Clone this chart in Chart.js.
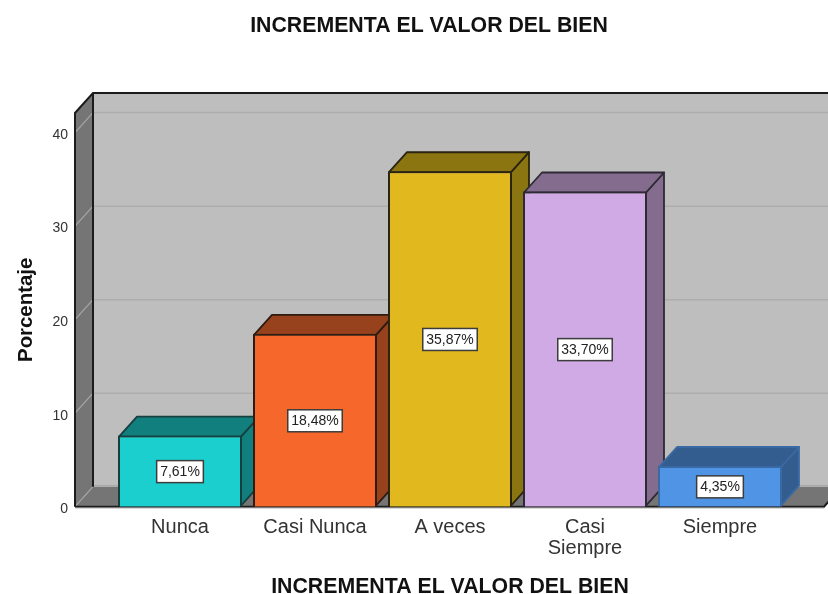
<!DOCTYPE html>
<html>
<head>
<meta charset="utf-8">
<style>
html,body{margin:0;padding:0;background:#fff;overflow:hidden;width:828px;height:594px}
canvas{display:block}
</style>
<script src="https://cdn.jsdelivr.net/npm/chart.js@4/dist/chart.umd.min.js"></script>
</head>
<body>
<canvas id="c" width="858" height="594"></canvas>
<script>
const categories = ['Nunca','Casi Nunca','A veces',['Casi','Siempre'],'Siempre'];
const percentages = [7.61,18.48,35.87,33.70,4.35];
const yTicks = [0,10,20,30,40];
const yMax = 42.1;
const frontColors = ['#1CCFCF','#F5672A','#E1B91E','#CFAAE5','#5095E5'];
const sideColors = ['#127F7F','#97411D','#8B7511','#836C8E','#345D8F'];
const edgeColors = ['#163F3F','#2E1C12','#2A2410','#2E2A33','#3A6AA3'];
const chartTitle = 'INCREMENTA EL VALOR DEL BIEN';
const yTitle = 'Porcentaje';

const DX = 18, DY = 20;
const LINE = '#1c1c1c';

function poly(ctx, pts, fill, stroke, lw){
  ctx.beginPath();
  pts.forEach((p,i)=> i? ctx.lineTo(p[0],p[1]) : ctx.moveTo(p[0],p[1]));
  ctx.closePath();
  if(fill){ctx.fillStyle=fill;ctx.fill();}
  if(stroke){ctx.strokeStyle=stroke;ctx.lineWidth=lw||2;ctx.stroke();}
}

const box3d = {
  id:'box3d',
  beforeDatasetsDraw(chart){
    const {ctx, scales:{x,y}} = chart;
    const top = y.getPixelForValue(yMax), base = y.getPixelForValue(0);
    const L = x.left-37.5, R = x.right+36.5;
    ctx.save();
    poly(ctx,[[L+DX,top-DY],[R+DX,top-DY],[R+DX,base-DY],[L+DX,base-DY]],'#BEBEBE');
    ctx.lineWidth=1.5;
    yTicks.forEach(v=>{
      if(v===0) return;
      const py=y.getPixelForValue(v);
      ctx.strokeStyle='#ADADAD';
      ctx.beginPath();ctx.moveTo(L+DX,py-DY);ctx.lineTo(R+DX,py-DY);ctx.stroke();
    });
    poly(ctx,[[L,base],[L+DX,base-DY],[R+DX,base-DY],[R,base]],'#757575');
    ctx.strokeStyle='#A8A8A8';ctx.lineWidth=1.5;
    ctx.beginPath();ctx.moveTo(L+DX,base-DY-1);ctx.lineTo(R+DX,base-DY-1);ctx.stroke();
    poly(ctx,[[L,top],[L+DX,top-DY],[L+DX,base-DY],[L,base]],'#757575');
    ctx.strokeStyle='#A6A6A6';ctx.lineWidth=1.2;
    yTicks.forEach(v=>{
      const py=y.getPixelForValue(v);
      ctx.beginPath();ctx.moveTo(L,py);ctx.lineTo(L+DX,py-DY);ctx.stroke();
    });
    ctx.strokeStyle=LINE;ctx.lineWidth=2;
    ctx.beginPath();
    ctx.moveTo(L,base);ctx.lineTo(L,top);ctx.lineTo(L+DX,top-DY);ctx.lineTo(R+DX,top-DY);
    ctx.moveTo(L+DX,top-DY);ctx.lineTo(L+DX,base-DY);
    ctx.moveTo(L,base);ctx.lineTo(R,base);ctx.lineTo(R+DX,base-DY);
    ctx.stroke();
    ctx.strokeStyle='#C8C8C8';ctx.lineWidth=1;
    ctx.beginPath();ctx.moveTo(L,base+1.5);ctx.lineTo(R,base+1.5);ctx.stroke();
    ctx.lineJoin='round';
    chart.getDatasetMeta(0).data.forEach((b,i)=>{
      const l=b.x-b.width/2+1, r=b.x+b.width/2-1, t=b.y+1, bt=b.base-1;
      poly(ctx,[[r,bt],[r,t],[r+DX,t-DY],[r+DX,bt-DY]],sideColors[i],edgeColors[i],1.8);
      poly(ctx,[[l,t],[l+DX,t-DY],[r+DX,t-DY],[r,t]],sideColors[i],edgeColors[i],1.8);
    });
    ctx.restore();
  },
  afterDatasetsDraw(chart){
    const {ctx} = chart;
    ctx.save();
    ctx.font='14px "Liberation Sans", Arial, sans-serif';
    ctx.textAlign='center';ctx.textBaseline='middle';
    chart.getDatasetMeta(0).data.forEach((b,i)=>{
      const txt=percentages[i].toFixed(2).replace('.',',')+'%';
      const w=ctx.measureText(txt).width+7, h=22;
      const cy=(b.y+b.base)/2+0.5;
      ctx.fillStyle='#fff';ctx.strokeStyle='#3c3c3c';ctx.lineWidth=1.5;
      ctx.fillRect(b.x-w/2,cy-h/2,w,h);ctx.strokeRect(b.x-w/2,cy-h/2,w,h);
      ctx.fillStyle='#222';ctx.fillText(txt,b.x,cy+0.5);
    });
    ctx.restore();
  }
};

Chart.defaults.font.family='"Liberation Sans", Arial, sans-serif';
new Chart(document.getElementById('c'),{
  type:'bar',
  data:{labels:categories,datasets:[{
    data:percentages,
    backgroundColor:frontColors,
    borderColor:edgeColors,
    borderWidth:2,
    barPercentage:124/135,
    categoryPercentage:1
  }]},
  options:{
    responsive:false,
    animation:false,
    layout:{padding:0},
    plugins:{
      legend:{display:false},
      tooltip:{enabled:false},
      title:{display:true,text:chartTitle,color:'#111',
        font:{size:21.3,weight:'bold',lineHeight:1.2},padding:{top:13.5,bottom:73.9}}
    },
    scales:{
      x:{
        grid:{display:false,drawTicks:false},border:{display:false},
        ticks:{color:'#333',font:{size:20,lineHeight:1.05},padding:10,autoSkip:false,maxRotation:0},
        title:{display:true,text:chartTitle,color:'#111',font:{size:21.3,weight:'bold',lineHeight:0.65},padding:0},
        afterFit(s){s.height=87.3;}
      },
      y:{
        min:0,max:yMax,
        grid:{display:false,drawTicks:false},border:{display:false},
        afterBuildTicks(s){s.ticks=yTicks.map(v=>({value:v}));},
        ticks:{color:'#333',font:{size:14},padding:44.5,labelOffset:2.5},
        title:{display:true,text:yTitle,color:'#111',font:{size:20.4,weight:'bold'},padding:{top:14,bottom:0}},
        afterFit(s){s.width=112.5;}
      },
      yRight:{
        position:'right',min:0,max:yMax,
        grid:{display:false,drawTicks:false},border:{display:false},
        ticks:{display:false},
        afterFit(s){s.width=70.5;}
      }
    }
  },
  plugins:[box3d]
});
</script>
</body>
</html>
